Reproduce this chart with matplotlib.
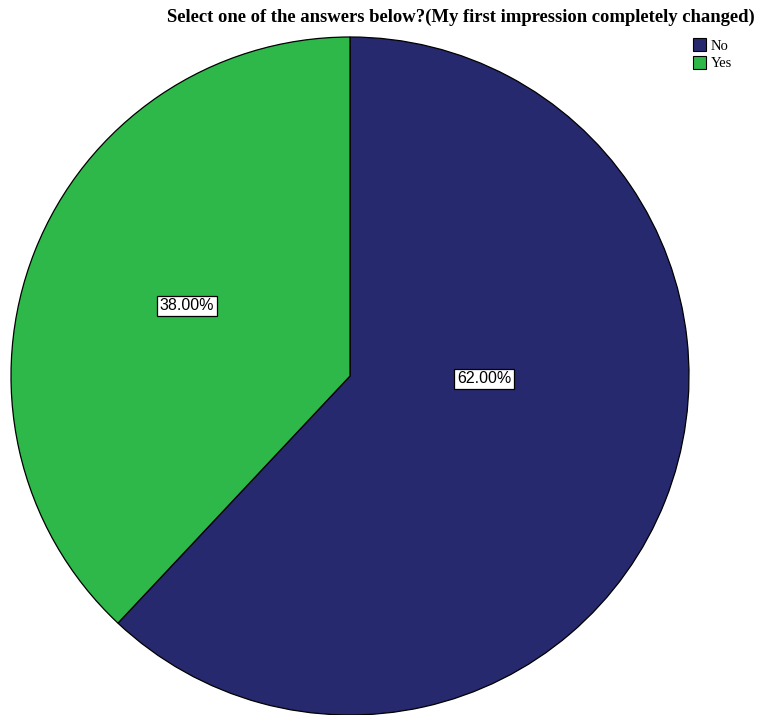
import matplotlib.pyplot as plt
from matplotlib.patches import Patch

answers = ["No", "Yes"]
percents = [62.0, 38.0]
colors = ["#27296e", "#2eb84a"]

fig = plt.figure(figsize=(7.58, 7.15), dpi=100)
W, H = 758, 715

# pie box in pixels: left, top, right, bottom
L, T, R, B = 11, 37, 689, 715
ax = fig.add_axes([L / W, 1 - B / H, (R - L) / W, (B - T) / H])

wedges, texts, autotexts = ax.pie(
    percents, colors=colors, startangle=90, counterclock=False,
    radius=1.0, autopct="%.2f%%",
    wedgeprops=dict(edgecolor="black", linewidth=0.9),
    textprops=dict(family="Liberation Sans", fontsize=11.5, color="black"))
ax.set_xlim(-1, 1)
ax.set_ylim(-1, 1)
ax.set_aspect("equal")
ax.axis("off")

# label spots in pixel coordinates
spots = [(484, 379), (187, 306)]
cx, cy, rad = (L + R) / 2, (T + B) / 2, (R - L) / 2
for t, (px, py) in zip(autotexts, spots):
    t.set_position(((px - cx) / rad, (cy - py) / rad))
    t.set_bbox(dict(boxstyle="square,pad=0.15", facecolor="white",
                    edgecolor="black", linewidth=0.9))

fig.text(461 / W, 1 - 17 / H,
         "Select one of the answers below?(My first impression completely changed)",
         ha="center", va="center", family="Liberation Serif",
         fontweight="bold", fontsize=13.4)

handles = [Patch(facecolor=c, edgecolor="black", linewidth=0.8) for c in colors]
fig.legend(handles, answers, loc="upper left", bbox_to_anchor=(683 / W, 1 - 28 / H),
           frameon=False, prop=dict(family="Liberation Serif", size=10.5),
           handlelength=0.9, handleheight=1.0, handletextpad=0.3,
           labelspacing=0.2, borderpad=0.2)

fig.savefig("out.png", dpi=100)
